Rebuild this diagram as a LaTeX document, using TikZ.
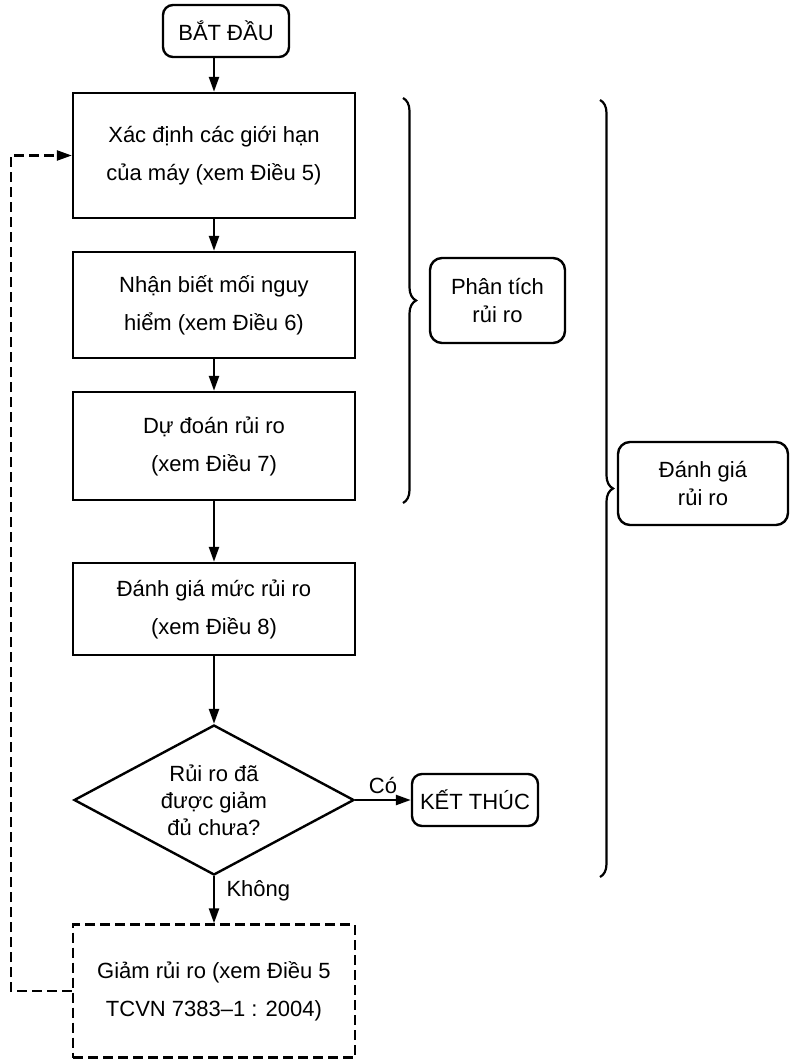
\documentclass[tikz,border=0pt]{standalone}
\usepackage{fontspec}
\setmainfont{Liberation Sans}
\usetikzlibrary{arrows.meta,shapes.geometric,decorations.pathreplacing}

\begin{document}
\begin{tikzpicture}[x=1pt,y=-1pt,
    every node/.style={font=\fontsize{22}{38}\selectfont},
    box/.style={draw,line width=2.4pt,minimum width=282pt,align=center,inner sep=0pt},
    term/.style={draw,line width=2.4pt,rounded corners=10pt,align=center,inner sep=0pt},
    arr/.style={line width=2.4pt,-{Triangle[length=15pt,width=10pt]}},
    brc/.style={line width=2.2pt,decorate,decoration={brace,amplitude=13pt}}]
    \useasboundingbox (0,0) rectangle (790,1064);
    % main column
    \node[term,minimum width=126pt,minimum height=52pt] (start) at (226,31) {BẮT ĐẦU};
    \node[box,minimum height=125pt] (limit) at (214,155.5) {Xác định các giới hạn\\của máy (xem Điều 5)};
    \node[box,minimum height=106pt] (hazard) at (214,305) {Nhận biết mối nguy\\hiểm (xem Điều 6)};
    \node[box,minimum height=108pt] (estim) at (214,446) {Dự đoán rủi ro\\(xem Điều 7)};
    \node[box,minimum height=92pt] (evalu) at (214,609) {Đánh giá mức rủi ro\\(xem Điều 8)};
    \node[draw,diamond,line width=2.4pt,minimum width=280pt,minimum height=150pt,
        aspect=1.87,inner sep=0pt,align=center,font=\fontsize{22}{27}\selectfont] (check) at (214,800)
        {Rủi ro đã\\được giảm\\đủ chưa?};
    \node[term,minimum width=126pt,minimum height=52pt] (stop) at (475,800) {KẾT THÚC};
    \node[box,dashed,dash pattern=on 10pt off 5pt,minimum height=133pt] (reduce) at (214,991)
        {Giảm rủi ro (xem Điều 5\\TCVN 7383–1 : 2004)};
    \draw[arr] (start.south -| limit.north) -- (limit.north);
    \draw[arr] (limit) -- (hazard);
    \draw[arr] (hazard) -- (estim);
    \draw[arr] (estim) -- (evalu);
    \draw[arr] (evalu) -- (check);
    \draw[arr] (check) -- node[above=2pt] {Có} (stop);
    \draw[arr] (check) -- node[right=8pt,pos=0.3] {Không} (reduce);
    \draw[arr,dash pattern=on 10pt off 5pt] (reduce.west) -- ++(-61,0) |- (limit.west);
    % braces on the right
    \draw[brc] (403,98) -- (403,503);
    \node[term,rounded corners=12pt,minimum width=135pt,minimum height=85pt,
        font=\fontsize{22}{28}\selectfont] (analysis) at (497.5,300.5) {Phân tích\\rủi ro};
    \draw[brc] (600,100) -- (600,877);
    \node[term,rounded corners=12pt,minimum width=170pt,minimum height=83pt,
        font=\fontsize{22}{28}\selectfont] (assess) at (703,483.5) {Đánh giá\\rủi ro};
\end{tikzpicture}
\end{document}
